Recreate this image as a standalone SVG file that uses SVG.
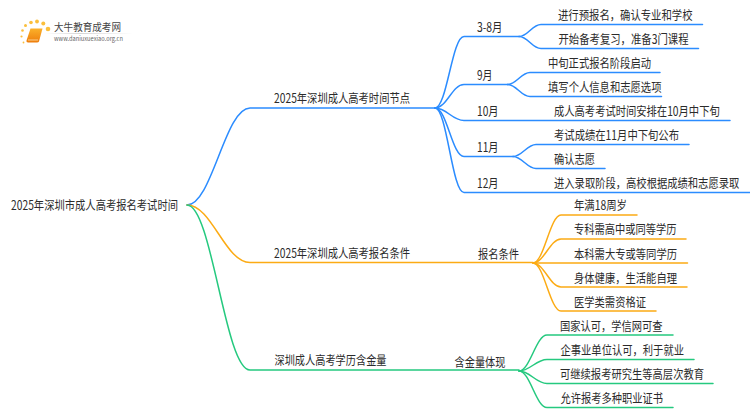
<svg xmlns="http://www.w3.org/2000/svg" width="750" height="410" viewBox="0 0 750 410">
<defs>
<linearGradient id="sep" x1="0" x2="1" y1="0" y2="0"><stop offset="0" stop-color="#ccc" stop-opacity="0"/><stop offset="0.4" stop-color="#ccc"/><stop offset="1" stop-color="#ccc" stop-opacity="0"/></linearGradient>
<linearGradient id="bookfill" x1="0" x2="0" y1="0" y2="1"><stop offset="0" stop-color="#fbb12a"/><stop offset="1" stop-color="#ee7d0c"/></linearGradient>
</defs>
<style>
text{font-family:"Noto Sans CJK SC","Noto Sans",sans-serif;font-size:12.500px;fill:#2b2b2b}
.c{fill:none;stroke-width:1.500;stroke-linecap:round}
.b{stroke:#2b8cff}.o{stroke:#fcab14}.g{stroke:#25c97f}
.dot{fill:#fbbf3c}
</style>
<rect width="750" height="410" fill="#fff"/>
<g id="logo">
<circle cx="48" cy="29" r="2.300" class="dot"/><circle cx="43.300" cy="23.500" r="2" class="dot"/><circle cx="37" cy="21.500" r="1.900" class="dot"/><circle cx="31" cy="22.500" r="1.800" class="dot"/><circle cx="25.500" cy="25.500" r="1.500" class="dot"/><circle cx="22.500" cy="30.500" r="1.300" class="dot"/><circle cx="21.500" cy="36.500" r="1.100" class="dot"/><circle cx="23.500" cy="42.500" r="0.900" class="dot"/>
<path d="M30.500 28.500H42.500L39 41.500Q38.500 42.500 37 42.500H28Q26 42.500 26.500 40.500Z" fill="url(#bookfill)"/>
<path d="M28 40H38" stroke="#fde2b0" stroke-width="0.800" fill="none"/>
<rect x="45" y="33" width="88" height="0.800" fill="url(#sep)"/>
<text x="54" y="31" textLength="67" lengthAdjust="spacingAndGlyphs" style="font-size:10.500px;fill:#444">大牛教育成考网</text>
<text x="54" y="41" textLength="69" lengthAdjust="spacingAndGlyphs" style="font-size:6.500px;fill:#666">www.daniuxuexiao.org.cn</text>
</g>
<g id="connectors">
<path class="c b" d="M187 205C212 205 225 108 250 108H435"/>
<path class="c o" d="M187 205C212 205 225 262.500 250 262.500H533"/>
<path class="c g" d="M187 205C212 205 225 370 250 370H519"/>
<path class="c b" d="M435 108C447 108 452 36.500 464 36.500H519"/>
<path class="c b" d="M435 108C447 108 452 84.500 464 84.500H507.500"/>
<path class="c b" d="M435 108C447 108 452 120.500 464 120.500H730"/>
<path class="c b" d="M435 108C447 108 452 156.500 464 156.500H513"/>
<path class="c b" d="M435 108C447 108 452 192.500 464 192.500H750"/>
<path class="c b" d="M519 36.500C528 36.500 532 24.500 541 24.500H702.500"/>
<path class="c b" d="M519 36.500C528 36.500 532 48.500 541 48.500H698.500"/>
<path class="c b" d="M507.500 84.500C516.500 84.500 521 72.500 530 72.500H660"/>
<path class="c b" d="M507.500 84.500C516.500 84.500 521 96.500 530 96.500H661.500"/>
<path class="c b" d="M513 156.500C522 156.500 527 144.500 536 144.500H689"/>
<path class="c b" d="M513 156.500C522 156.500 527 168.500 536 168.500H605"/>
<path class="c o" d="M533 263C544 263 550 215 561 215H637"/>
<path class="c o" d="M533 263C544 263 550 239 561 239H686"/>
<path class="c o" d="M533 263H687.500"/>
<path class="c o" d="M533 263C544 263 550 287 561 287H687"/>
<path class="c o" d="M533 263C544 263 550 311 561 311H656"/>
<path class="c g" d="M519 371C530 371 536 335 547 335H673"/>
<path class="c g" d="M519 371C530 371 536 359.500 547 359.500H694"/>
<path class="c g" d="M519 371C530 371 536 383.500 547 383.500H713"/>
<path class="c g" d="M519 371C530 371 536 407.500 547 407.500H673"/>
</g>
<g id="n0"><text x="11" y="209.500" textLength="167" lengthAdjust="spacingAndGlyphs">2025年深圳市成人高考报名考试时间</text></g>
<g id="n1"><text x="274" y="102.500" textLength="136" lengthAdjust="spacingAndGlyphs">2025年深圳成人高考时间节点</text></g>
<g id="n2"><text x="274" y="257.500" textLength="136" lengthAdjust="spacingAndGlyphs">2025年深圳成人高考报名条件</text></g>
<g id="n3"><text x="274.500" y="364.500" textLength="112" lengthAdjust="spacingAndGlyphs">深圳成人高考学历含金量</text></g>
<g id="n4"><text x="477" y="31.500" textLength="25.500" lengthAdjust="spacingAndGlyphs">3-8月</text></g>
<g id="n5"><text x="477" y="79.500" textLength="15.500" lengthAdjust="spacingAndGlyphs">9月</text></g>
<g id="n6"><text x="477" y="115.500" textLength="21.500" lengthAdjust="spacingAndGlyphs">10月</text></g>
<g id="n7"><text x="477" y="151.500" textLength="21.500" lengthAdjust="spacingAndGlyphs">11月</text></g>
<g id="n8"><text x="477" y="187.500" textLength="21.500" lengthAdjust="spacingAndGlyphs">12月</text></g>
<g id="n9"><text x="558" y="19.500" textLength="134.500" lengthAdjust="spacingAndGlyphs">进行预报名，确认专业和学校</text></g>
<g id="n10"><text x="558.500" y="43.500" textLength="130" lengthAdjust="spacingAndGlyphs">开始备考复习，准备3门课程</text></g>
<g id="n11"><text x="548" y="67.500" textLength="103" lengthAdjust="spacingAndGlyphs">中旬正式报名阶段启动</text></g>
<g id="n12"><text x="548" y="92" textLength="113.500" lengthAdjust="spacingAndGlyphs">填写个人信息和志愿选项</text></g>
<g id="n13"><text transform="translate(554 115.500) scale(0.824 1)">成人高考考试时间安排在10月中下旬</text></g>
<g id="n14"><text x="554" y="140" textLength="125" lengthAdjust="spacingAndGlyphs">考试成绩在11月中下旬公布</text></g>
<g id="n15"><text x="554" y="164" textLength="41" lengthAdjust="spacingAndGlyphs">确认志愿</text></g>
<g id="n16"><text transform="translate(554 188) scale(0.825 1)">进入录取阶段，高校根据成绩和志愿录取</text></g>
<g id="n17"><text x="478" y="258.500" textLength="41" lengthAdjust="spacingAndGlyphs">报名条件</text></g>
<g id="n18"><text x="574" y="210" textLength="53" lengthAdjust="spacingAndGlyphs">年满18周岁</text></g>
<g id="n19"><text x="574" y="234" textLength="102.500" lengthAdjust="spacingAndGlyphs">专科需高中或同等学历</text></g>
<g id="n20"><text x="574" y="258.500" textLength="103" lengthAdjust="spacingAndGlyphs">本科需大专或等同学历</text></g>
<g id="n21"><text x="574" y="282.500" textLength="103" lengthAdjust="spacingAndGlyphs">身体健康，生活能自理</text></g>
<g id="n22"><text x="574" y="306.500" textLength="72" lengthAdjust="spacingAndGlyphs">医学类需资格证</text></g>
<g id="n23"><text x="454.500" y="366.500" textLength="51" lengthAdjust="spacingAndGlyphs">含金量体现</text></g>
<g id="n24"><text x="560" y="330.500" textLength="102.500" lengthAdjust="spacingAndGlyphs">国家认可，学信网可查</text></g>
<g id="n25"><text x="560.500" y="354.500" textLength="123.500" lengthAdjust="spacingAndGlyphs">企事业单位认可，利于就业</text></g>
<g id="n26"><text x="560" y="378.500" textLength="144" lengthAdjust="spacingAndGlyphs">可继续报考研究生等高层次教育</text></g>
<g id="n27"><text x="560.500" y="402.500" textLength="102.500" lengthAdjust="spacingAndGlyphs">允许报考多种职业证书</text></g>
</svg>
